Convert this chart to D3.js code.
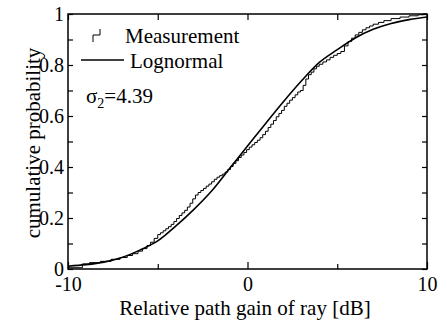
<!DOCTYPE html>
<html>
<head>
<meta charset="utf-8">
<script src="https://cdn.jsdelivr.net/npm/d3@7"></script>
<style>
  body { margin: 0; background: #fff; }
  svg text { font-family: 'Liberation Serif', 'Times New Roman', serif !important; fill: #000; }
</style>
</head>
<body>
<script>
// Chart size
var svgWidth = 447;
var svgHeight = 324;
var fontFamily = "'Liberation Serif', 'Times New Roman', serif";

var margin = { top: 14, right: 20, bottom: 55, left: 68 };
var chartWidth = 427 - margin.left;
var chartHeight = 269 - margin.top;

// Data
// =================================
// measured empirical CDF (staircase)
var measX = [-10, -9.2, -8.8, -8.2, -7.6, -7.1, -6.7, -6.4, -6.1, -5.85, -5.6, -5.4, -5.2, -5.0,
  -4.85, -4.7, -4.55, -4.4, -4.25, -4.1, -3.95, -3.8, -3.65, -3.5, -3.35, -3.2, -3.05, -2.9,
  -2.75, -2.6, -2.45, -2.3, -2.15, -2.0, -1.85, -1.7, -1.55, -1.4, -1.25, -1.1, -0.95, -0.8,
  -0.65, -0.5, -0.35, -0.2, -0.05, 0.1, 0.25, 0.4, 0.55, 0.7, 0.85, 1.0, 1.15, 1.3, 1.45, 1.6,
  1.75, 1.9, 2.05, 2.2, 2.35, 2.5, 2.65, 2.8, 2.95, 3.1, 3.25, 3.4, 3.55, 3.7, 3.85, 4.0, 4.2,
  4.4, 4.6, 4.8, 5.0, 5.2, 5.4, 5.6, 5.8, 6.0, 6.2, 6.4, 6.6, 6.8, 7.0, 7.3, 7.6, 8.0, 8.5,
  9.0, 9.5, 9.8, 10];
var measY = [0.005, 0.02, 0.025, 0.03, 0.038, 0.045, 0.053, 0.06, 0.07, 0.08, 0.092, 0.105, 0.12, 0.135,
  0.142, 0.15, 0.158, 0.166, 0.175, 0.186, 0.198, 0.21, 0.22, 0.23, 0.243, 0.258, 0.275, 0.29,
  0.3, 0.308, 0.316, 0.325, 0.333, 0.342, 0.352, 0.36, 0.366, 0.372, 0.38, 0.39, 0.402, 0.414,
  0.425, 0.437, 0.447, 0.457, 0.468, 0.478, 0.487, 0.496, 0.505, 0.515, 0.527, 0.54, 0.555, 0.568, 0.582, 0.597,
  0.61, 0.622, 0.638, 0.65, 0.662, 0.672, 0.683, 0.694, 0.70, 0.72, 0.745, 0.762, 0.772, 0.785, 0.795, 0.803, 0.812,
  0.82, 0.83, 0.838, 0.845, 0.853, 0.875, 0.892, 0.905, 0.918, 0.928, 0.938, 0.946, 0.953, 0.96, 0.967, 0.974, 0.982, 0.988,
  0.993, 0.997, 1.0, 1.0];

// lognormal fit
var fitX = [-10, -9, -8, -7, -6, -5, -4, -3, -2, -1, 0, 1, 2, 3, 4, 5, 6, 7, 8, 9, 10];
var fitY = [0.011, 0.017, 0.027, 0.045, 0.074, 0.11, 0.168, 0.233, 0.306, 0.394, 0.482,
  0.57, 0.656, 0.737, 0.81, 0.86, 0.906, 0.94, 0.963, 0.978, 0.988];

// tick values
var xMajor = [-10, 0, 10];
var xMinor = [-5, 5];
var yMajor = [0, 0.2, 0.4, 0.6, 0.8, 1];
var yMinor = [0.1, 0.3, 0.5, 0.7, 0.9];

var svg = d3.select("body")
  .append("svg")
  .attr("width", svgWidth)
  .attr("height", svgHeight)
  .attr("font-family", fontFamily);

var chartGroup = svg.append("g")
  .attr("transform", `translate(${margin.left}, ${margin.top})`);

// scales
var xScale = d3.scaleLinear().domain([-10, 10]).range([0, chartWidth]);
var yScale = d3.scaleLinear().domain([0, 1]).range([chartHeight, 0]);

// axes (ticks pointing inward)
function styleAxis(g) {
  g.attr("font-family", fontFamily).attr("font-size", 20);
  g.select(".domain").remove();
  g.selectAll("line").attr("stroke", "#000").attr("stroke-width", 1.2);
  g.selectAll("text").attr("fill", "#000");
}

chartGroup.append("g")
  .attr("transform", `translate(0, ${chartHeight})`)
  .call(d3.axisBottom(xScale).tickValues(xMajor).tickSize(-7).tickSizeOuter(0)
    .tickPadding(8).tickFormat(d => String(d)))
  .call(styleAxis);

chartGroup.append("g")
  .attr("transform", `translate(0, ${chartHeight})`)
  .call(d3.axisBottom(xScale).tickValues(xMinor).tickSize(-5).tickSizeOuter(0).tickFormat(""))
  .call(styleAxis);

chartGroup.append("g")
  .call(d3.axisTop(xScale).tickValues(xMajor.concat(xMinor)).tickSize(-6).tickSizeOuter(0).tickFormat(""))
  .call(styleAxis);

chartGroup.append("g")
  .call(d3.axisLeft(yScale).tickValues(yMajor).tickSize(-5).tickSizeOuter(0)
    .tickPadding(4).tickFormat(d => String(d)))
  .call(styleAxis);

chartGroup.append("g")
  .call(d3.axisLeft(yScale).tickValues(yMinor).tickSize(-5).tickSizeOuter(0).tickFormat(""))
  .call(styleAxis);

chartGroup.append("g")
  .attr("transform", `translate(${chartWidth}, 0)`)
  .call(d3.axisRight(yScale).tickValues(yMajor.concat(yMinor)).tickSize(-5).tickSizeOuter(0).tickFormat(""))
  .call(styleAxis);

// frame
chartGroup.append("rect")
  .attr("x", 0)
  .attr("y", 0)
  .attr("width", chartWidth)
  .attr("height", chartHeight)
  .attr("fill", "none")
  .attr("stroke", "#000")
  .attr("stroke-width", 1.5);

// curves
var measData = measX.map((x, i) => [x, measY[i]]);
var fitData = fitX.map((x, i) => [x, fitY[i]]);

var measLine = d3.line()
  .x(d => xScale(d[0]))
  .y(d => yScale(d[1]))
  .curve(d3.curveStepAfter);

var fitLine = d3.line()
  .x(d => xScale(d[0]))
  .y(d => yScale(d[1]))
  .curve(d3.curveMonotoneX);

chartGroup.append("path")
  .datum(measData)
  .attr("d", measLine)
  .attr("fill", "none")
  .attr("stroke", "#000")
  .attr("stroke-width", 1);

chartGroup.append("path")
  .datum(fitData)
  .attr("d", fitLine)
  .attr("fill", "none")
  .attr("stroke", "#000")
  .attr("stroke-width", 1.6);

// legend
svg.append("path")
  .attr("d", "M93,42 V35 H100 V29")
  .attr("fill", "none")
  .attr("stroke", "#000")
  .attr("stroke-width", 1);

svg.append("text")
  .attr("x", 125)
  .attr("y", 43)
  .attr("font-size", 21)
  .text("Measurement");

svg.append("line")
  .attr("x1", 81).attr("x2", 124)
  .attr("y1", 60).attr("y2", 60)
  .attr("stroke", "#000")
  .attr("stroke-width", 1.6);

svg.append("text")
  .attr("x", 130)
  .attr("y", 68)
  .attr("font-size", 21)
  .text("Lognormal");

var sigmaText = svg.append("text")
  .attr("x", 86)
  .attr("y", 103)
  .attr("font-size", 21);
sigmaText.append("tspan").text("σ");
sigmaText.append("tspan").attr("dy", 5).attr("font-size", 14).text("2");
sigmaText.append("tspan").attr("dy", -5).text("=4.39");

// axis labels
svg.append("text")
  .attr("x", 245)
  .attr("y", 315)
  .attr("text-anchor", "middle")
  .attr("font-size", 21)
  .text("Relative path gain of ray [dB]");

svg.append("text")
  .attr("transform", "translate(40, 143) rotate(-90)")
  .attr("text-anchor", "middle")
  .attr("font-size", 21)
  .text("cumulative probability");
</script>
</body>
</html>
